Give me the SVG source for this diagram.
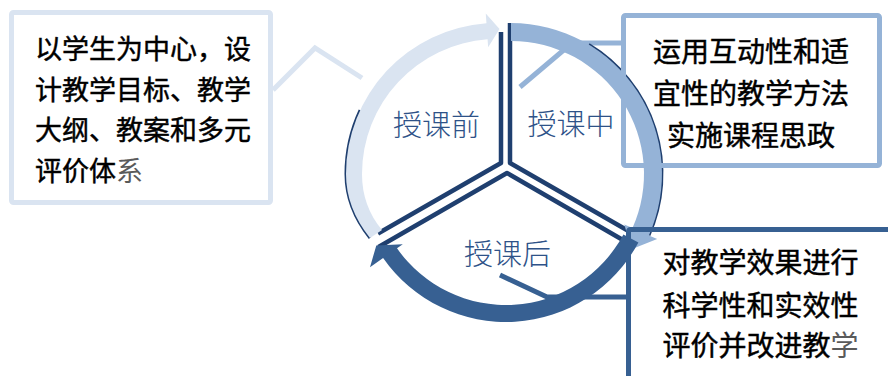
<svg xmlns="http://www.w3.org/2000/svg" width="888" height="376" viewBox="0 0 888 376">
  <style>
    .box { fill: none; stroke-width: 5; stroke-linejoin: round; }
    .call { fill: none; stroke-width: 5; stroke-linejoin: miter; }
    .sec { fill: none; stroke: #1F3F6F; stroke-width: 4.5; stroke-linejoin: round; stroke-linecap: butt; }
    .thin { fill: none; stroke: #1F3F6F; stroke-width: 3; }
    .lbl { font-family: "Noto Sans CJK SC", "Noto Sans CJK JP", sans-serif; font-size: 29px; font-weight: 300; fill: #2E5288; text-anchor: middle; }
    .txt { font-family: "Noto Sans CJK SC", "Noto Sans CJK JP", sans-serif; font-size: 28px; fill: #000000; stroke: #000000; stroke-width: 0.45; }
    .gray { fill: #5A5A5A; stroke: none; }
  </style>

  <g id="connectors">
    <polyline class="call" stroke="#DAE4F1" points="273,90 315,48 362,78"/>
    <polyline class="call" stroke="#95B3D7" points="622,43 572,43 520,87"/>
    <polyline class="call" stroke="#376092" points="627,297 547,297 500,275"/>
  </g>

  <g id="cycle">
    <path class="thin" d="M370,238 Q346,208 346,174 A151,151 0 0 1 360.1,110.2"/>
    <path class="thin" d="M588.8,44.6 A151,151 0 0 1 648.9,235.4"/>
    <path class="sec" d="M501,32 L501,163 L378,233.5"/>
    <path class="sec" d="M632,233 L510,163 L510,23"/>
    <path class="sec" d="M378.5,247 L507,173 L635,247"/>

    <path id="arrow-before" fill="#DAE4F1" d="M370,238 Q346,208 346,174 A151,151 0 0 1 486.47,23.37 L485.77,13.39 L499.53,29.02 L488.14,47.31 L487.58,39.33 A135,135 0 0 0 362,174 Q362,206 382,230 Z"/>
    <path id="arrow-during" fill="#95B3D7" d="M511,23 A151,151 0 0 1 648.9,235.4 L657.2,239.1 L631.4,249.2 L624.3,224.4 L632.5,228.1 A133,133 0 0 0 511,41 Z"/>
    <path id="arrow-after" fill="#376092" d="M623.4,234.4 L638.4,242.4 A150,150 0 0 1 383.1,258 L370,267.2 L376.3,245.4 L402.8,244.3 L397,248.3 A133,133 0 0 0 623.4,234.4 Z"/>
  </g>

  <g id="node-before">
    <text class="lbl" x="436.5" y="136">授课前</text>
  </g>
  <g id="node-during">
    <text class="lbl" x="571" y="134.5">授课中</text>
  </g>
  <g id="node-after">
    <text class="lbl" x="507.5" y="264.5">授课后</text>
  </g>

  <g id="box-before">
    <rect class="box" stroke="#DAE4F1" x="11.5" y="12.5" width="259" height="190" rx="2"/>
    <text class="txt" style="font-size:27px" x="35" y="59">以学生为中心，设</text>
    <text class="txt" style="font-size:27px" x="35" y="99.5">计教学目标、教学</text>
    <text class="txt" style="font-size:27px" x="35" y="140">大纲、教案和多元</text>
    <text class="txt" style="font-size:27px" x="35" y="180.5">评价体<tspan class="gray">系</tspan></text>
  </g>

  <g id="box-during">
    <rect class="box" stroke="#95B3D7" x="623.5" y="15.5" width="256" height="150" rx="2"/>
    <text class="txt" text-anchor="middle" x="751" y="61.5">运用互动性和适</text>
    <text class="txt" text-anchor="middle" x="751" y="103.5">宜性的教学方法</text>
    <text class="txt" text-anchor="middle" x="751" y="145.5">实施课程思政</text>
  </g>

  <g id="box-after">
    <rect class="box" stroke="#376092" x="628.5" y="229.5" width="300" height="200" rx="2"/>
    <text class="txt" text-anchor="middle" x="760.5" y="273">对教学效果进行</text>
    <text class="txt" text-anchor="middle" x="760.5" y="315.5">科学性和实效性</text>
    <text class="txt" text-anchor="middle" x="760.5" y="355.5">评价并改进教<tspan class="gray">学</tspan></text>
  </g>
</svg>
